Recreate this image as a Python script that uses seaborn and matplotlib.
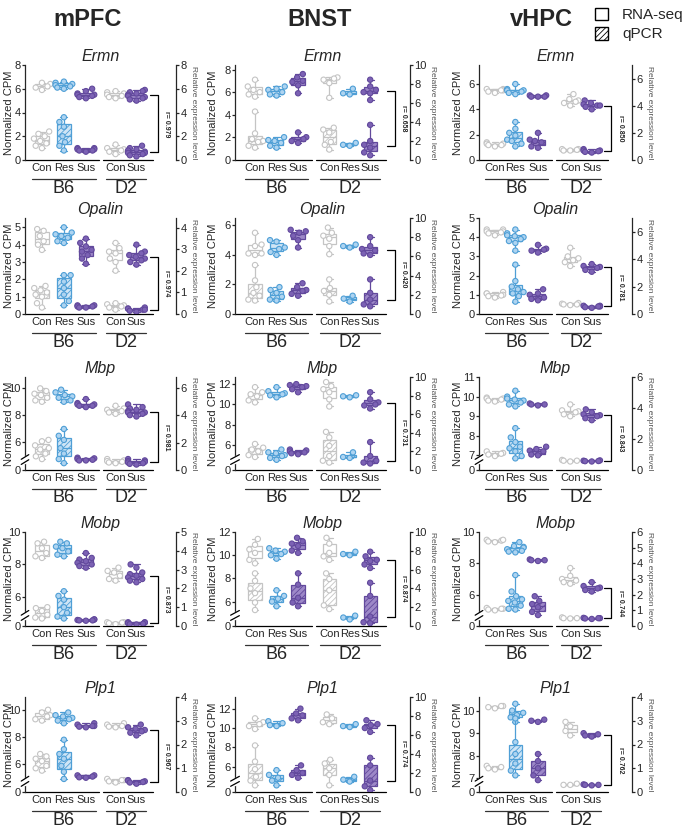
import numpy as np
import pandas as pd
import matplotlib
matplotlib.use('Agg')
import matplotlib.pyplot as plt
import matplotlib.transforms as mtransforms
from matplotlib.patches import Patch
import seaborn as sns
import warnings

warnings.filterwarnings('ignore')

regions = ['mPFC', 'BNST', 'vHPC']
genes = ['Ermn', 'Opalin', 'Mbp', 'Mobp', 'Plp1']
b6_groups = ['Con', 'Res', 'Sus']
d2_groups = {'mPFC': ['Con', 'Sus'], 'BNST': ['Con', 'Res', 'Sus'], 'vHPC': ['Con', 'Sus']}

# ---- mPFC (B6 Con, Res, Sus, D2 Con, Sus) ----
mpfc_ermn_rna = [[6.5, 6.4, 6.2, 6.1, 5.9], [6.6, 6.5, 6.4, 6.3, 6.2, 6.1, 6.0], [6.0, 5.8, 5.6, 5.5, 5.5, 5.4, 5.3, 5.2], [5.8, 5.7, 5.6, 5.5, 5.4, 5.3, 5.2], [5.9, 5.8, 5.7, 5.6, 5.5, 5.4, 5.3, 5.2, 5.1, 5.0]]
mpfc_ermn_qpcr = [[2.4, 2.2, 2.0, 1.8, 1.6, 1.4, 1.2, 1.0], [3.6, 3.2, 2.8, 2.0, 1.5, 1.2, 0.8], [1.0, 1.0, 0.9, 0.9, 0.8, 0.8, 0.7], [1.3, 1.0, 0.9, 0.8, 0.7, 0.5], [1.2, 1.0, 0.9, 0.8, 0.7, 0.6, 0.6, 0.5, 0.4, 0.3]]
mpfc_opalin_rna = [[4.9, 4.8, 4.5, 4.2, 4.0, 3.7], [5.0, 4.7, 4.6, 4.5, 4.4, 4.2, 4.1], [4.35, 4.1, 3.9, 3.7, 3.6, 3.4, 3.2, 2.9], [4.1, 3.8, 3.6, 3.5, 3.2, 3.0, 2.5], [4.0, 3.6, 3.5, 3.4, 3.3, 3.2, 3.1, 3.0, 2.85]]
mpfc_opalin_qpcr = [[1.3, 1.2, 1.1, 1.0, 0.9, 0.8, 0.5, 0.3], [1.8, 1.8, 1.5, 1.2, 0.9, 0.6, 0.4], [0.4, 0.4, 0.35, 0.35, 0.3, 0.3], [0.5, 0.45, 0.4, 0.35, 0.3, 0.2], [0.3, 0.25, 0.25, 0.2, 0.2, 0.15, 0.1]]
mpfc_mbp_rna = [[10.0, 9.8, 9.6, 9.5, 9.3, 9.1, 9.0], [9.9, 9.7, 9.5, 9.4, 9.3, 9.1, 9.0], [9.2, 8.9, 8.8, 8.8, 8.7, 8.7, 8.6], [8.7, 8.5, 8.4, 8.3, 8.2, 8.1], [8.8, 8.6, 8.5, 8.4, 8.3, 8.2, 8.2, 8.1, 8.0, 7.9]]
mpfc_mbp_qpcr = [[2.2, 2.1, 1.8, 1.6, 1.5, 1.2, 1.0, 0.8], [3.0, 2.5, 2.2, 1.6, 1.2, 0.8, 0.5], [0.9, 0.85, 0.8, 0.75, 0.7, 0.7], [0.8, 0.7, 0.65, 0.6, 0.55, 0.5], [0.8, 0.7, 0.65, 0.6, 0.55, 0.5, 0.45, 0.4]]
mpfc_mobp_rna = [[9.4, 9.3, 9.0, 8.7, 8.5, 8.4], [9.4, 9.3, 9.1, 9.0, 8.8, 8.6, 8.5], [8.7, 8.4, 8.3, 8.2, 8.1, 8.0, 7.9, 7.8], [7.8, 7.6, 7.5, 7.3, 7.1, 7.0], [8.0, 7.8, 7.5, 7.4, 7.3, 7.2, 7.1, 7.0, 6.9]]
mpfc_mobp_qpcr = [[1.0, 0.95, 0.8, 0.6, 0.45, 0.4], [1.85, 1.6, 1.4, 1.0, 0.7, 0.5, 0.4], [0.35, 0.35, 0.32, 0.3, 0.3, 0.28], [0.2, 0.2, 0.18, 0.15, 0.1], [0.2, 0.2, 0.18, 0.15, 0.12, 0.1, 0.08]]
mpfc_plp1_rna = [[10.0, 9.8, 9.6, 9.5, 9.3, 9.2], [9.8, 9.6, 9.5, 9.4, 9.3, 9.2, 9.0], [9.0, 8.9, 8.8, 8.8, 8.75, 8.7], [9.0, 8.9, 8.8, 8.75, 8.7], [8.9, 8.7, 8.6, 8.5, 8.4, 8.3, 8.1]]
mpfc_plp1_qpcr = [[1.6, 1.5, 1.4, 1.3, 1.1, 1.0, 0.9], [2.2, 1.8, 1.6, 1.4, 1.1, 0.85, 0.55], [0.7, 0.7, 0.65, 0.62, 0.6], [0.55, 0.5, 0.5, 0.45, 0.4], [0.5, 0.48, 0.45, 0.42, 0.4, 0.35]]

# ---- BNST (B6 Con, Res, Sus, D2 Con, Res, Sus) ----
bnst_ermn_rna = [[7.1, 6.5, 6.2, 6.0, 5.8, 5.6], [6.5, 6.3, 6.2, 6.0, 5.8, 5.7], [7.6, 7.3, 7.0, 6.9, 6.6, 5.9], [7.3, 7.2, 7.1, 6.8, 5.5], [6.3, 5.9, 5.8], [7.1, 6.5, 6.2, 6.0, 5.9, 5.3]]
bnst_ermn_qpcr = [[5.1, 2.8, 2.2, 2.0, 1.9, 1.5, 1.3], [2.4, 2.1, 2.0, 1.8, 1.5, 1.3], [2.9, 2.4, 2.2, 2.0, 1.8], [3.4, 3.2, 2.9, 1.9, 1.6, 1.1], [1.8, 1.6, 1.5], [3.7, 2.0, 1.6, 1.3, 0.8, 0.5]]
bnst_opalin_rna = [[5.5, 4.7, 4.6, 4.1, 4.1, 4.0], [5.0, 4.9, 4.5, 4.4, 4.2, 4.0], [5.7, 5.6, 5.5, 5.3, 5.0, 4.5], [5.85, 5.5, 5.3, 5.1, 4.6, 4.05], [4.7, 4.6, 4.5], [5.2, 4.6, 4.4, 4.3, 4.1, 4.0]]
bnst_opalin_qpcr = [[5.1, 3.5, 2.8, 2.2, 1.9, 1.5, 1.4], [2.8, 2.5, 2.2, 1.8, 1.5, 1.4], [3.2, 2.8, 2.5, 2.4, 2.1, 1.9], [3.6, 2.7, 2.4, 2.0, 1.3], [1.9, 1.6, 1.3], [3.6, 2.2, 1.5, 1.0, 0.8]]
bnst_mbp_rna = [[11.7, 11.2, 11.0, 10.8, 10.4, 10.2], [11.7, 11.3, 11.1, 11.0, 10.9, 10.7], [12.0, 11.9, 11.8, 11.7, 11.5, 11.2], [12.2, 11.8, 11.5, 11.2, 10.5, 9.8], [10.9, 10.8, 10.7], [11.2, 10.5, 10.2, 10.0, 9.9, 9.6]]
bnst_mbp_qpcr = [[2.8, 2.4, 2.2, 2.0, 1.6, 1.4], [2.2, 1.9, 1.8, 1.6, 1.5, 1.3, 1.1], [2.2, 2.1, 2.0, 1.9, 1.8, 1.7], [4.1, 3.5, 2.6, 1.5, 1.0, 0.8], [1.9, 1.4, 1.3], [3.0, 1.5, 1.0, 0.8, 0.7]]
bnst_mobp_rna = [[11.4, 10.9, 10.5, 10.2, 9.6, 9.3], [10.6, 10.4, 10.3, 10.1, 10.0, 9.7], [11.5, 11.2, 11.0, 10.8, 10.4, 10.2], [11.5, 11.0, 10.2, 9.9, 9.6], [10.3, 10.1, 10.0], [10.3, 9.9, 9.6, 9.5, 9.2, 8.9]]
bnst_mobp_qpcr = [[5.6, 4.8, 4.0, 3.5, 2.5, 1.7], [3.8, 3.2, 2.9, 2.6, 2.1], [5.6, 4.4, 3.0, 2.5, 2.1], [5.6, 5.0, 3.8, 2.2, 1.8], [1.1, 0.9, 0.7], [4.6, 3.2, 1.0, 0.4, 0.3]]
bnst_plp1_rna = [[11.0, 10.6, 10.4, 10.2, 9.9], [10.7, 10.5, 10.3, 10.2], [12.0, 11.5, 11.3, 11.0, 10.8], [11.4, 11.0, 10.6, 10.4], [10.4, 10.2, 10.1], [10.8, 10.4, 10.3, 10.0, 9.6]]
bnst_plp1_qpcr = [[4.9, 3.2, 2.4, 1.6, 1.2, 0.7], [2.3, 1.8, 1.5, 1.2, 0.7], [2.8, 2.3, 2.0, 1.8, 1.5], [3.4, 3.0, 2.5, 1.8, 0.7], [1.6, 1.3, 1.1], [3.6, 2.8, 1.2, 0.6, 0.2]]

# ---- vHPC (B6 Con, Res, Sus, D2 Con, Sus) ----
vhpc_ermn_rna = [[5.6, 5.6, 5.5, 5.5, 5.4, 5.3], [6.0, 5.6, 5.5, 5.5, 5.4, 5.3, 5.2], [5.1, 5.1, 5.0, 5.0, 5.0], [5.2, 4.8, 4.7, 4.6, 4.5, 4.3], [4.7, 4.5, 4.4, 4.3, 4.3, 4.2, 4.0]]
vhpc_ermn_qpcr = [[1.3, 1.2, 1.2, 1.1, 1.1, 1.0], [2.8, 2.3, 2.0, 1.8, 1.5, 1.4, 1.2, 1.0], [2.0, 1.5, 1.4, 1.3, 1.0, 0.9], [0.8, 0.8, 0.75, 0.7, 0.7], [0.8, 0.7, 0.7, 0.65, 0.6, 0.55]]
vhpc_opalin_rna = [[4.4, 4.4, 4.3, 4.3, 4.25, 4.2, 4.1], [4.4, 4.2, 4.1, 4.05, 4.0, 3.9, 3.8, 3.7, 3.3], [3.6, 3.4, 3.35, 3.3, 3.2], [3.45, 3.0, 2.9, 2.8, 2.7, 2.5], [2.6, 2.5, 2.45, 2.4, 2.3, 2.2]]
vhpc_opalin_qpcr = [[1.6, 1.5, 1.5, 1.4, 1.35, 1.3, 1.2], [3.6, 2.4, 2.0, 1.8, 1.6, 1.5, 1.3, 0.9], [1.8, 1.5, 1.4, 1.2, 1.1, 1.0], [0.8, 0.75, 0.7, 0.7, 0.65], [0.6, 0.6, 0.55, 0.55, 0.5, 0.45]]
vhpc_mbp_rna = [[9.95, 9.9, 9.9, 9.85, 9.8, 9.75], [10.3, 10.0, 9.9, 9.85, 9.8, 9.7, 9.6, 9.5], [9.65, 9.6, 9.6, 9.55], [9.6, 9.3, 9.25, 9.2, 9.1, 9.0], [9.35, 9.2, 9.1, 9.05, 9.0, 8.9, 8.8]]
vhpc_mbp_qpcr = [[1.2, 1.1, 1.05, 1.0, 0.9], [2.7, 2.1, 1.8, 1.5, 1.4, 1.2, 0.9, 0.75], [1.5, 1.35, 1.25, 1.2, 1.0, 0.95], [0.65, 0.6, 0.6, 0.55], [0.62, 0.6, 0.58, 0.57, 0.55]]
vhpc_mobp_rna = [[9.5, 9.45, 9.4, 9.35, 9.5], [9.35, 9.1, 9.05, 9.0, 8.9, 8.8, 8.75, 8.7], [8.25, 8.2, 8.2, 8.15], [7.7, 7.2, 7.0, 6.9, 6.8, 6.7], [6.8, 6.55, 6.45, 6.4, 6.3, 6.2]]
vhpc_mobp_qpcr = [[1.15, 1.1, 1.1, 1.05, 1.0], [3.25, 2.2, 1.9, 1.7, 1.6, 1.5, 1.3, 1.1, 1.05], [1.9, 1.6, 1.4, 1.2, 0.9, 0.7], [0.55, 0.5, 0.5, 0.48], [0.52, 0.5, 0.5, 0.48, 0.45]]
vhpc_plp1_rna = [[10.2, 10.2, 10.15, 10.1], [10.3, 10.0, 9.9, 9.8, 9.7, 9.5], [9.6, 9.55, 9.5], [9.5, 9.3, 9.1, 8.9], [9.0, 8.95, 8.9, 8.85]]
vhpc_plp1_qpcr = [[1.1, 1.05, 1.0, 0.95], [3.1, 2.1, 1.6, 1.2, 0.9, 0.7], [1.6, 1.3, 1.0, 0.7, 0.5], [0.35, 0.3, 0.3], [0.32, 0.3, 0.3, 0.28]]

r_values = {
    'mPFC': [0.979, 0.974, 0.981, 0.873, 0.967],
    'BNST': [0.658, 0.420, 0.731, 0.874, 0.774],
    'vHPC': [0.850, 0.781, 0.843, 0.744, 0.762],
}

panels = {
    ('mPFC', 'Ermn'): (mpfc_ermn_rna, mpfc_ermn_qpcr), ('mPFC', 'Opalin'): (mpfc_opalin_rna, mpfc_opalin_qpcr),
    ('mPFC', 'Mbp'): (mpfc_mbp_rna, mpfc_mbp_qpcr), ('mPFC', 'Mobp'): (mpfc_mobp_rna, mpfc_mobp_qpcr),
    ('mPFC', 'Plp1'): (mpfc_plp1_rna, mpfc_plp1_qpcr),
    ('BNST', 'Ermn'): (bnst_ermn_rna, bnst_ermn_qpcr), ('BNST', 'Opalin'): (bnst_opalin_rna, bnst_opalin_qpcr),
    ('BNST', 'Mbp'): (bnst_mbp_rna, bnst_mbp_qpcr), ('BNST', 'Mobp'): (bnst_mobp_rna, bnst_mobp_qpcr),
    ('BNST', 'Plp1'): (bnst_plp1_rna, bnst_plp1_qpcr),
    ('vHPC', 'Ermn'): (vhpc_ermn_rna, vhpc_ermn_qpcr), ('vHPC', 'Opalin'): (vhpc_opalin_rna, vhpc_opalin_qpcr),
    ('vHPC', 'Mbp'): (vhpc_mbp_rna, vhpc_mbp_qpcr), ('vHPC', 'Mobp'): (vhpc_mobp_rna, vhpc_mobp_qpcr),
    ('vHPC', 'Plp1'): (vhpc_plp1_rna, vhpc_plp1_qpcr),
}

# axis ranges: left lo, left hi, left ticks, broken?, right hi, right ticks
e2 = [0, 2, 4, 6, 8, 10]
axis_cfg = {
    ('mPFC', 'Ermn'): (0, 8, [0, 2, 4, 6, 8], False, 8, [0, 2, 4, 6, 8]),
    ('mPFC', 'Opalin'): (0, 5.54, [0, 1, 2, 3, 4, 5], False, 4.45, [0, 1, 2, 3, 4]),
    ('mPFC', 'Mbp'): (3.9, 10.85, [6, 8, 10], True, 6.8, [0, 2, 4, 6]),
    ('mPFC', 'Mobp'): (4.2, 10, [6, 8, 10], True, 5, [0, 1, 2, 3, 4, 5]),
    ('mPFC', 'Plp1'): (3.9, 10.95, [6, 8, 10], True, 4, [0, 1, 2, 3, 4]),
    ('BNST', 'Ermn'): (0, 8.4, [0, 2, 4, 6, 8], False, 10, e2),
    ('BNST', 'Opalin'): (0, 6.5, [0, 2, 4, 6], False, 10, e2),
    ('BNST', 'Mbp'): (3.55, 12.7, [6, 8, 10, 12], True, 10, e2),
    ('BNST', 'Mobp'): (3.9, 12, [6, 8, 10, 12], True, 10, e2),
    ('BNST', 'Plp1'): (3.4, 13.2, [6, 8, 10, 12], True, 10, e2),
    ('vHPC', 'Ermn'): (0, 7.5, [0, 2, 4, 6], False, 7.0, [0, 2, 4, 6]),
    ('vHPC', 'Opalin'): (0, 5, [0, 1, 2, 3, 4, 5], False, 7.0, [0, 2, 4, 6]),
    ('vHPC', 'Mbp'): (6.26, 11, [7, 8, 9, 10, 11], True, 6, [0, 2, 4, 6]),
    ('vHPC', 'Mobp'): (4.0, 10, [6, 8, 10], True, 6, [0, 1, 2, 3, 4, 5, 6]),
    ('vHPC', 'Plp1'): (6.4, 10.6, [7, 8, 9, 10], True, 4, [0, 1, 2, 3, 4]),
}

positions = {'mPFC': [0, 1, 2, 3.35, 4.3], 'BNST': [0, 1, 2, 3.45, 4.4, 5.35], 'vHPC': [0, 0.95, 2, 3.5, 4.5]}
xlims = {'mPFC': (-0.77, 6.1), 'BNST': (-0.93, 7.2), 'vHPC': (-0.74, 6.37)}
bracket_x = {'mPFC': 5.27, 'BNST': 6.5, 'vHPC': 5.4}
col_px = {'mPFC': (25, 176), 'BNST': (235, 410), 'vHPC': (479, 632)}
left_label_px = {'mPFC': 16, 'BNST': 22, 'vHPC': 21}
right_label_px = {'mPFC': 17, 'BNST': 23, 'vHPC': 17}
row_px = [(65, 160), (218, 314), (377, 470), (532, 626), (697, 792)]

edge = {'Con': '#c4c4c4', 'Res': '#4f9fd6', 'Sus': '#62499c'}
box_fill = {'Con': '#ffffff', 'Res': '#cfe5f6', 'Sus': '#9d88c8'}
dot_fill = {'Con': '#ffffff', 'Res': '#aed4f1', 'Sus': '#7c62b4'}

sns.set_style('ticks')
plt.rcParams['font.family'] = ['Liberation Sans', 'DejaVu Sans']
plt.rcParams['hatch.linewidth'] = 0.6

W, H = 688, 833
fig = plt.figure(figsize=(W / 100, H / 100), dpi=100)


def nearest_group(x, pos, labels):
    return labels[int(np.argmin([abs(x - p) for p in pos]))]


def draw_groups(ax, pos, labels, values, hatched):
    keys = [f'{i}_{g}' for i, g in enumerate(labels)]
    df = pd.DataFrame({
        'pos': np.concatenate([[p] * len(v) for p, v in zip(pos, values)]),
        'value': np.concatenate(values),
        'key': np.concatenate([[k] * len(v) for k, v in zip(keys, values)]),
    })
    nw = min(np.diff(sorted(pos)))
    sns.boxplot(data=df, x='pos', y='value', hue='key', hue_order=keys, native_scale=True,
                dodge=False, orient='x', ax=ax, width=0.62 / nw, whis=(0, 100),
                showfliers=False, palette={k: box_fill[g] for k, g in zip(keys, labels)},
                linecolor='black', linewidth=0.9, saturation=1, legend=False)
    for patch in ax.patches:
        g = nearest_group(patch.get_path().vertices[:, 0].mean(), pos, labels)
        patch.set_edgecolor(edge[g])
        if hatched:
            patch.set_hatch('//////')
    for line in ax.lines:
        g = nearest_group(np.mean(line.get_xdata()), pos, labels)
        line.set_color(edge[g])
    n_before = len(ax.collections)
    sns.swarmplot(data=df, x='pos', y='value', hue='key', hue_order=keys, native_scale=True,
                  dodge=False, orient='x', ax=ax, size=3.8, linewidth=0.8,
                  palette={k: dot_fill[g] for k, g in zip(keys, labels)}, legend=False)
    for coll in ax.collections[n_before:]:
        offs = coll.get_offsets()
        if len(offs) == 0:
            continue
        g = nearest_group(np.mean(offs[:, 0]), pos, labels)
        coll.set_edgecolor(edge[g])


for ci, region in enumerate(regions):
    x0, x1 = col_px[region]
    width_px = x1 - x0
    pos = positions[region]
    labels = b6_groups + d2_groups[region]
    for ri, gene in enumerate(genes):
        top, bot = row_px[ri]
        ax = fig.add_axes([x0 / W, 1 - bot / H, width_px / W, (bot - top) / H])
        ax2 = ax.twinx()
        rna, qpcr = panels[(region, gene)]
        llo, lhi, lticks, broken, rhi, rticks = axis_cfg[(region, gene)]

        ax.set_ylim(llo, lhi)
        ax2.set_ylim(0, rhi)
        draw_groups(ax, pos, labels, rna, False)
        draw_groups(ax2, pos, labels, qpcr, True)

        ax.set_xlim(*xlims[region])
        ax.set_ylim(llo, lhi)
        ax2.set_ylim(0, rhi)
        if broken:
            ax.set_yticks([llo] + lticks)
            ax.set_yticklabels(['0'] + [str(t) for t in lticks])
        else:
            ax.set_yticks(lticks)
            ax.set_yticklabels([str(t) for t in lticks])
        ax2.set_yticks(rticks)
        ax2.set_yticklabels([str(t) for t in rticks])
        ax.set_xticks(pos)
        ax.set_xticklabels(labels)
        ax.tick_params(axis='x', length=0, labelsize=8, pad=2.5)
        ax.tick_params(axis='y', length=2.5, width=0.9, labelsize=8, pad=0.8)
        ax2.tick_params(axis='y', length=2.5, width=0.9, labelsize=8, pad=0.8)

        for s in ['top', 'right', 'bottom']:
            ax.spines[s].set_visible(False)
        for s in ['top', 'left', 'bottom']:
            ax2.spines[s].set_visible(False)
        ax.spines['left'].set_linewidth(0.9)
        ax2.spines['right'].set_linewidth(0.9)

        ax.set_ylabel('Normalized CPM', fontsize=8, va='center')
        ax.yaxis.set_label_coords(-left_label_px[region] / width_px, 0.5)
        ax2.set_ylabel('Relative expression level', fontsize=6, color='#555555',
                       rotation=270, va='center')
        ax2.yaxis.set_label_coords(1 + right_label_px[region] / width_px, 0.5)
        ax.set_xlabel('')
        ax2.set_xlabel('')
        ax.set_title(gene, fontsize=11.5, style='italic', pad=3)

        trans = mtransforms.blended_transform_factory(ax.transData, ax.transAxes)
        # x axis line, broken between the strains
        gap = (pos[2] + pos[3]) / 2
        xl = xlims[region][0]
        ax.plot([xl, gap - 0.1], [0, 0], transform=trans, color='black', lw=0.9, clip_on=False)
        ax.plot([gap + 0.1, pos[-1] + 0.75], [0, 0], transform=trans, color='black', lw=0.9, clip_on=False)

        # strain lines and labels
        for grp_pos, name in [(pos[:3], 'B6'), (pos[3:], 'D2')]:
            ax.plot([grp_pos[0] - 0.45, grp_pos[-1] + 0.45], [-0.2, -0.2], transform=trans,
                    color='#333333', lw=0.9, clip_on=False)
            ax.text(np.mean(grp_pos), -0.3, name, transform=trans, ha='center', va='center',
                    fontsize=13)

        # broken left axis
        if broken:
            ax.plot([0, 0], [0.085, 0.14], transform=ax.transAxes, color='white', lw=2.5,
                    clip_on=False, zorder=5)
            for yb in [0.085, 0.14]:
                ax.plot([-0.025, 0.025], [yb - 0.025, yb + 0.025], transform=ax.transAxes,
                        color='black', lw=0.9, clip_on=False, zorder=6)

        # correlation bracket
        bx = bracket_x[region]
        top_f = (np.median(rna[-1]) - llo) / (lhi - llo)
        bot_f = np.median(qpcr[-1]) / rhi
        ax.plot([bx - 0.35, bx, bx, bx - 0.35], [top_f, top_f, bot_f, bot_f], transform=trans,
                color='black', lw=0.9, clip_on=False)
        ax.text(bx + 0.42, (top_f + bot_f) / 2, f'r= {r_values[region][ri]:.3f}', transform=trans,
                rotation=270, ha='center', va='center', fontsize=5, fontweight='bold')

# region headers
for region, xc in zip(regions, [88, 320, 541]):
    fig.text(xc / W, 1 - 20 / H, region, ha='center', va='center', fontsize=17, fontweight='bold')

handles = [Patch(facecolor='white', edgecolor='black', linewidth=1.0),
           Patch(facecolor='white', edgecolor='black', linewidth=1.0, hatch='//////')]
fig.legend(handles, ['RNA-seq', 'qPCR'], loc='upper right', bbox_to_anchor=(1.005, 1.0),
           frameon=False, fontsize=11, handlelength=0.9, handleheight=0.9,
           handletextpad=0.9, labelspacing=0.3, borderaxespad=0.1)

fig.savefig('out.png', dpi=100)
